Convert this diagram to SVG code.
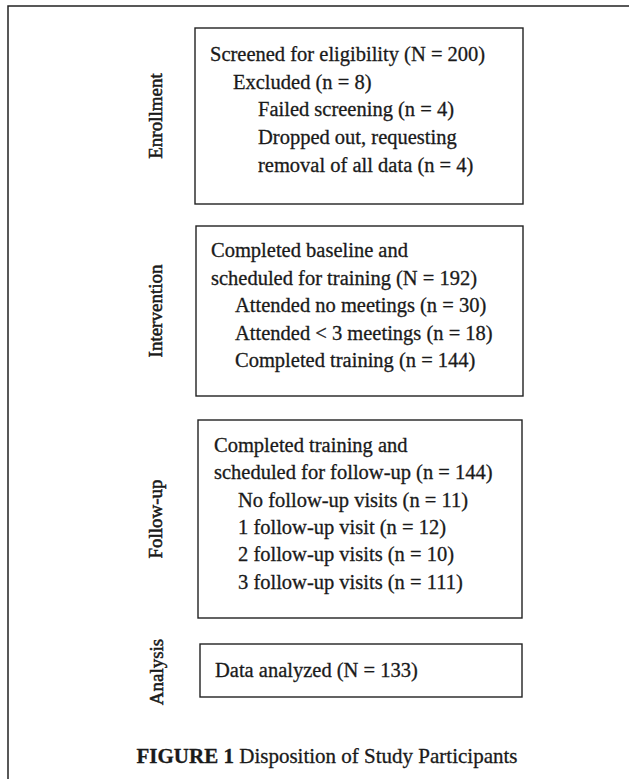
<svg xmlns="http://www.w3.org/2000/svg" width="629" height="779" viewBox="0 0 629 779">
<style>
.frame{fill:none;stroke:#222;stroke-width:1.5}
.box{fill:none;stroke:#222;stroke-width:1.4}
.t{font-family:"Liberation Serif","Times New Roman",serif;font-size:20.5px;fill:#1a1a1a;stroke:#1a1a1a;stroke-width:0.3}
.lbl{font-family:"Liberation Serif","Times New Roman",serif;font-size:19px;fill:#1a1a1a;stroke:#1a1a1a;stroke-width:0.5;text-anchor:middle}
.cap{font-family:"Liberation Serif","Times New Roman",serif;font-size:21px;fill:#1a1a1a;stroke:#1a1a1a;stroke-width:0.3;text-anchor:middle}
</style>
<rect x="0" y="0" width="629" height="779" fill="#ffffff"/>
<path class="frame" d="M8,779 V6 H629"/>
<g id="label-enrollment"><text class="lbl" transform="translate(162,116) rotate(-90)">Enrollment</text></g>
<g id="label-intervention"><text class="lbl" transform="translate(162,311) rotate(-90)">Intervention</text></g>
<g id="label-followup"><text class="lbl" transform="translate(162,519) rotate(-90)">Follow-up</text></g>
<g id="label-analysis"><text class="lbl" transform="translate(163,672) rotate(-90)">Analysis</text></g>
<g id="enrollment">
<rect class="box" x="195" y="28" width="328" height="176"/>
<text class="t" x="210" y="61">Screened for eligibility (N = 200)</text>
<text class="t" x="233" y="88.7">Excluded (n = 8)</text>
<text class="t" x="258" y="116.4">Failed screening (n = 4)</text>
<text class="t" x="258" y="144.1">Dropped out, requesting</text>
<text class="t" x="258" y="171.8">removal of all data (n = 4)</text>
</g>
<g id="intervention">
<rect class="box" x="196" y="226" width="327" height="170"/>
<text class="t" x="211" y="257">Completed baseline and</text>
<text class="t" x="211" y="284.5">scheduled for training (N = 192)</text>
<text class="t" x="235" y="312">Attended no meetings (n = 30)</text>
<text class="t" x="235" y="339.5">Attended &lt; 3 meetings (n = 18)</text>
<text class="t" x="235" y="367">Completed training (n = 144)</text>
</g>
<g id="followup">
<rect class="box" x="198" y="420" width="324" height="198"/>
<text class="t" x="214" y="452">Completed training and</text>
<text class="t" x="214" y="479.3">scheduled for follow-up (n = 144)</text>
<text class="t" x="238" y="506.6">No follow-up visits (n = 11)</text>
<text class="t" x="238" y="533.9">1 follow-up visit (n = 12)</text>
<text class="t" x="238" y="561.2">2 follow-up visits (n = 10)</text>
<text class="t" x="238" y="588.5">3 follow-up visits (n = 111)</text>
</g>
<g id="analysis">
<rect class="box" x="200" y="644" width="322" height="53"/>
<text class="t" x="215" y="677">Data analyzed (N = 133)</text>
</g>
<g id="connectors"></g>
<g id="caption"><text class="cap" x="327" y="763"><tspan font-weight="bold">FIGURE 1</tspan> Disposition of Study Participants</text></g>
</svg>
